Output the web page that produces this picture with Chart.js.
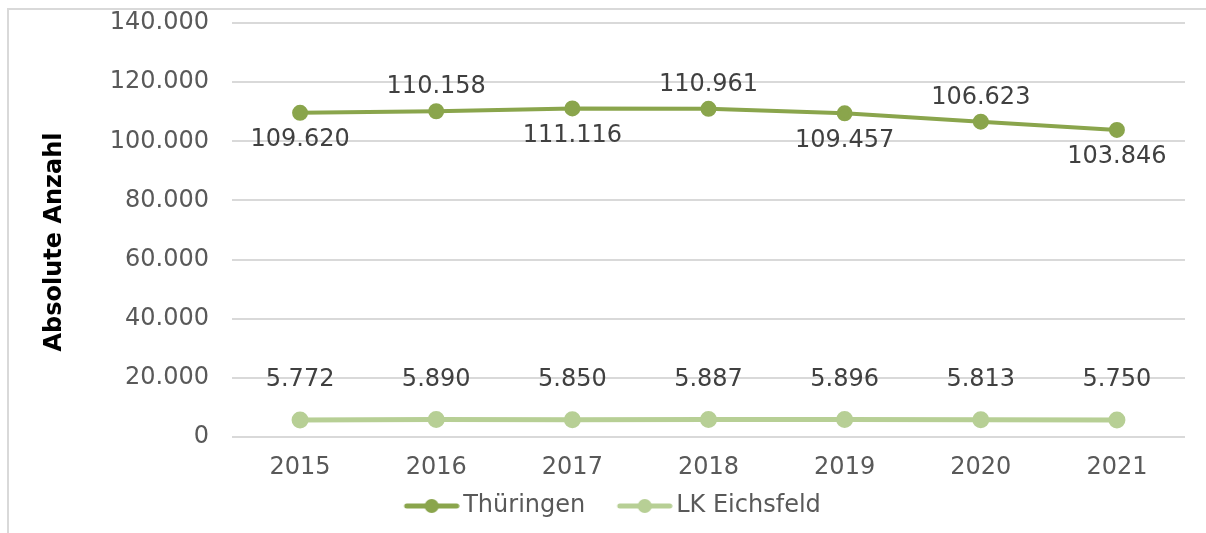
<!DOCTYPE html>
<html>
<head>
<meta charset="utf-8">
<script src="https://cdn.jsdelivr.net/npm/chart.js@4/dist/chart.umd.min.js"></script>
<style>
  html, body { margin: 0; padding: 0; background: #fff; }
  body { width: 1206px; height: 533px; position: relative; overflow: hidden; }
  .frame { position: absolute; left: 7px; top: 8px; width: 1210px; height: 540px; border: 2px solid #d9d9d9; box-sizing: border-box; }
  .wrap { position: absolute; left: 0; top: 0; width: 1206px; height: 533px; }
</style>
</head>
<body>
<div class="frame"></div>
<div class="wrap"><canvas id="chart"></canvas></div>
<script>
const years = ['2015', '2016', '2017', '2018', '2019', '2020', '2021']
const thueringen = [109620, 110158, 111116, 110961, 109457, 106623, 103846]
const eichsfeld = [5772, 5890, 5850, 5887, 5896, 5813, 5750]
// label side for Thüringen: 1 = below, -1 = above
const thSide = [1, -1, 1, -1, 1, -1, 1]
const yTitle = 'Absolute Anzahl'

const darkGreen = '#8aa54c'
const lightGreen = '#b7cf95'
const font = "'DejaVu Sans', Verdana, sans-serif"
const fontSize = 24

function fmt(v){
    return String(v).replace(/\B(?=(\d{3})+(?!\d))/g, '.')
}

// legend icon: transparent space on the left, line + dot on the right
function legendIcon(color){
    const c = document.createElement('canvas')
    c.width = 88
    c.height = 16
    const ctx = c.getContext('2d')
    ctx.strokeStyle = color
    ctx.lineWidth = 5
    ctx.lineCap = 'round'
    ctx.beginPath()
    ctx.moveTo(35, 8)
    ctx.lineTo(85, 8)
    ctx.stroke()
    ctx.fillStyle = color
    ctx.beginPath()
    ctx.arc(60, 8, 7, 0, Math.PI*2)
    ctx.fill()
    return c
}
const icons = [legendIcon(darkGreen), legendIcon(lightGreen)]

const valueLabels = {
    id: 'valueLabels',
    afterDatasetsDraw(chart){
        const ctx = chart.ctx
        ctx.save()
        ctx.font = fontSize + 'px ' + font
        ctx.fillStyle = '#404040'
        ctx.textAlign = 'center'
        ctx.textBaseline = 'middle'
        chart.data.datasets.forEach((ds, i) => {
            chart.getDatasetMeta(i).data.forEach((pt, j) => {
                let dy
                if(i === 0){
                    dy = thSide[j] > 0 ? 27 : -24
                } else {
                    dy = -40
                }
                ctx.fillText(fmt(ds.data[j]), pt.x, pt.y + dy)
            })
        })
        // y axis title
        ctx.translate(55, 242)
        ctx.rotate(-Math.PI/2)
        ctx.font = 'bold 24px ' + font
        ctx.fillStyle = '#000'
        ctx.fillText(yTitle, 0, 0)
        ctx.restore()
    }
}

new Chart(document.getElementById('chart'), {
    type: 'line',
    data: {
        labels: years,
        datasets: [{
            label: 'Thüringen',
            data: thueringen,
            borderColor: darkGreen,
            backgroundColor: darkGreen,
            borderWidth: 4,
            pointRadius: 6,
            pointHoverRadius: 6,
            tension: 0
        }, {
            label: 'LK Eichsfeld',
            data: eichsfeld,
            borderColor: lightGreen,
            backgroundColor: lightGreen,
            borderWidth: 5,
            pointRadius: 6,
            pointHoverRadius: 6,
            tension: 0
        }]
    },
    options: {
        responsive: true,
        maintainAspectRatio: false,
        animation: false,
        layout: { padding: { top: 23, right: 21, bottom: 5, left: 16 } },
        plugins: {
            tooltip: { enabled: false },
            legend: {
                position: 'bottom',
                labels: {
                    usePointStyle: true,
                    pointStyleWidth: 71,
                    color: '#595959',
                    font: { family: font, size: fontSize },
                    padding: 8,
                    generateLabels(chart){
                        const items = Chart.defaults.plugins.legend.labels.generateLabels(chart)
                        items.forEach((it, i) => { it.pointStyle = icons[i] })
                        return items
                    }
                }
            }
        },
        scales: {
            x: {
                offset: true,
                afterFit(scale){
                    scale.height = 49
                    scale.paddingLeft = 0
                    scale.paddingRight = 0
                },
                grid: { display: false, drawTicks: false },
                border: { display: false },
                ticks: { color: '#595959', font: { family: font, size: fontSize }, padding: 16 }
            },
            y: {
                min: 0,
                max: 140000,
                afterFit(scale){
                    scale.width = 216
                    scale.paddingTop = 0
                    scale.paddingBottom = 0
                },
                grid: { color: '#d9d9d9', lineWidth: 2, drawTicks: false },
                border: { display: false },
                ticks: {
                    stepSize: 20000,
                    color: '#595959',
                    font: { family: font, size: fontSize },
                    padding: 23,
                    callback: v => fmt(v)
                }
            }
        }
    },
    plugins: [valueLabels]
})
</script>
</body>
</html>
